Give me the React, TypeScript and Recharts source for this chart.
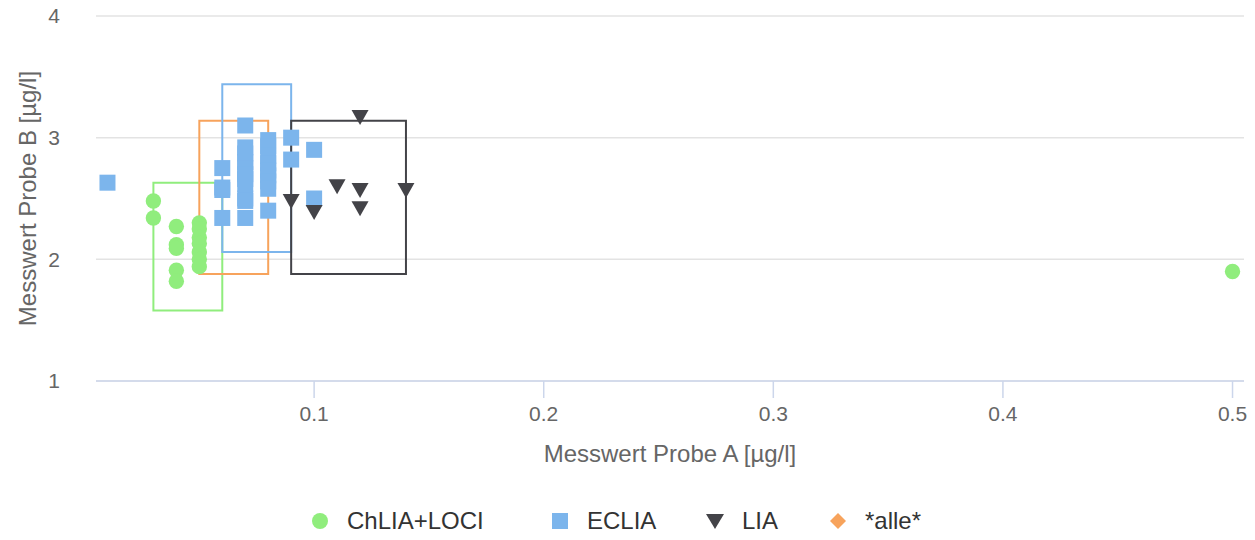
import { CartesianGrid, ReferenceArea, Scatter, ScatterChart, XAxis, YAxis } from "recharts";

// ChLIA+LOCI
const chliaX = [0.03, 0.03, 0.04, 0.04, 0.04, 0.04, 0.04, 0.05, 0.05, 0.05, 0.05, 0.05, 0.05, 0.05, 0.5];
const chliaY = [2.48, 2.34, 2.27, 2.12, 2.09, 1.91, 1.82, 2.3, 2.25, 2.18, 2.13, 2.06, 2.0, 1.94, 1.9];

// ECLIA
const ecliaX = [
  0.01, 0.06, 0.06, 0.06, 0.06, 0.07, 0.07, 0.07, 0.07, 0.07, 0.07, 0.07, 0.07, 0.07, 0.07, 0.07, 0.08, 0.08,
  0.08, 0.08, 0.08, 0.08, 0.08, 0.08, 0.08, 0.09, 0.09, 0.1, 0.1,
];
const ecliaY = [
  2.63, 2.75, 2.59, 2.57, 2.34, 3.1, 2.92, 2.87, 2.8, 2.75, 2.7, 2.66, 2.62, 2.5, 2.48, 2.34, 2.98, 2.93, 2.85,
  2.79, 2.73, 2.69, 2.64, 2.58, 2.4, 3.0, 2.82, 2.9, 2.5,
];

// LIA
const liaX = [0.09, 0.1, 0.11, 0.12, 0.12, 0.12, 0.14];
const liaY = [2.48, 2.39, 2.6, 2.57, 2.42, 3.17, 2.57];

// range boxes: ChLIA+LOCI, *alle*, ECLIA, LIA
const boxColors = ["#90ed7d", "#f7a35c", "#7cb5ec", "#434348"];
const boxX1 = [0.03, 0.05, 0.06, 0.09];
const boxX2 = [0.06, 0.08, 0.09, 0.14];
const boxY1 = [1.58, 1.88, 2.06, 1.88];
const boxY2 = [2.63, 3.14, 3.44, 3.14];

const xTicks = [0.1, 0.2, 0.3, 0.4, 0.5];
const yTicks = [1, 2, 3, 4];

const toPoints = (xs: number[], ys: number[]) => xs.map((x, i) => ({ x, y: ys[i] }));

const chliaData = toPoints(chliaX, chliaY);
const ecliaData = toPoints(ecliaX, ecliaY);
const liaData = toPoints(liaX, liaY);

const FONT = "'Liberation Sans', Arial, Helvetica, sans-serif";

const Circle = (p: any) => <circle cx={p.cx} cy={p.cy} r={7.7} fill="#90ed7d" />;
const Square = (p: any) => <rect x={p.cx - 8} y={p.cy - 8} width={16} height={16} fill="#7cb5ec" />;
const TriDown = (p: any) => (
  <polygon
    points={`${p.cx - 8.5},${p.cy - 7} ${p.cx + 8.5},${p.cy - 7} ${p.cx},${p.cy + 8}`}
    fill="#434348"
  />
);

const legendItems = [
  { label: "ChLIA+LOCI", left: 311, icon: <circle cx={9} cy={9} r={8} fill="#90ed7d" /> },
  { label: "ECLIA", left: 551, icon: <rect x={1} y={1} width={16} height={16} fill="#7cb5ec" /> },
  { label: "LIA", left: 706, icon: <polygon points="0,2 18,2 9,17" fill="#434348" /> },
  { label: "*alle*", left: 829, icon: <polygon points="9,1 17,9 9,17 1,9" fill="#f7a35c" /> },
];

export default function App() {
  return (
    <div style={{ position: "absolute", left: 0, top: 0, width: 1255, height: 540, fontFamily: FONT, background: "#fff" }}>
      <ScatterChart width={1255} height={540} margin={{ top: 16, right: 11, left: 0, bottom: 78 }}>
        <CartesianGrid horizontal vertical={false} stroke="#e3e3e3" strokeWidth={1.5} />
        <XAxis
          type="number"
          dataKey="x"
          domain={[0.005, 0.505]}
          ticks={xTicks}
          allowDataOverflow
          height={81}
          stroke="#ccd6eb"
          strokeWidth={1.5}
          tickSize={17}
          tickMargin={8}
          tick={{ fill: "#666", fontSize: 21, fontFamily: FONT }}
          label={{
            value: "Messwert Probe A [µg/l]",
            position: "insideBottom",
            offset: 0,
            style: { fill: "#666", fontSize: 24, fontFamily: FONT },
          }}
        />
        <YAxis
          type="number"
          dataKey="y"
          domain={[1, 4]}
          ticks={yTicks}
          allowDataOverflow
          width={96}
          axisLine={false}
          tickLine={false}
          tickSize={0}
          tickMargin={36}
          tick={{ fill: "#666", fontSize: 21, fontFamily: FONT }}
          label={{
            value: "Messwert Probe B [µg/l]",
            angle: -90,
            position: "insideLeft",
            offset: 27,
            style: { fill: "#666", fontSize: 24, fontFamily: FONT, textAnchor: "middle" },
          }}
        />
        {boxColors.map((c, i) => (
          <ReferenceArea
            key={c}
            x1={boxX1[i]}
            x2={boxX2[i]}
            y1={boxY1[i]}
            y2={boxY2[i]}
            fill="none"
            fillOpacity={0}
            stroke={c}
            strokeWidth={2}
            strokeOpacity={1}
          />
        ))}
        <Scatter name="ChLIA+LOCI" data={chliaData} fill="#90ed7d" shape={Circle} isAnimationActive={false} />
        <Scatter name="ECLIA" data={ecliaData} fill="#7cb5ec" shape={Square} isAnimationActive={false} />
        <Scatter name="LIA" data={liaData} fill="#434348" shape={TriDown} isAnimationActive={false} />
      </ScatterChart>
      {legendItems.map((it) => (
        <div
          key={it.label}
          style={{ position: "absolute", left: it.left, top: 506, height: 30, display: "flex", alignItems: "center" }}
        >
          <svg width={18} height={18} style={{ display: "block" }}>
            {it.icon}
          </svg>
          <span style={{ marginLeft: 18, fontSize: 24, lineHeight: "30px", color: "#333", whiteSpace: "nowrap" }}>
            {it.label}
          </span>
        </div>
      ))}
    </div>
  );
}
